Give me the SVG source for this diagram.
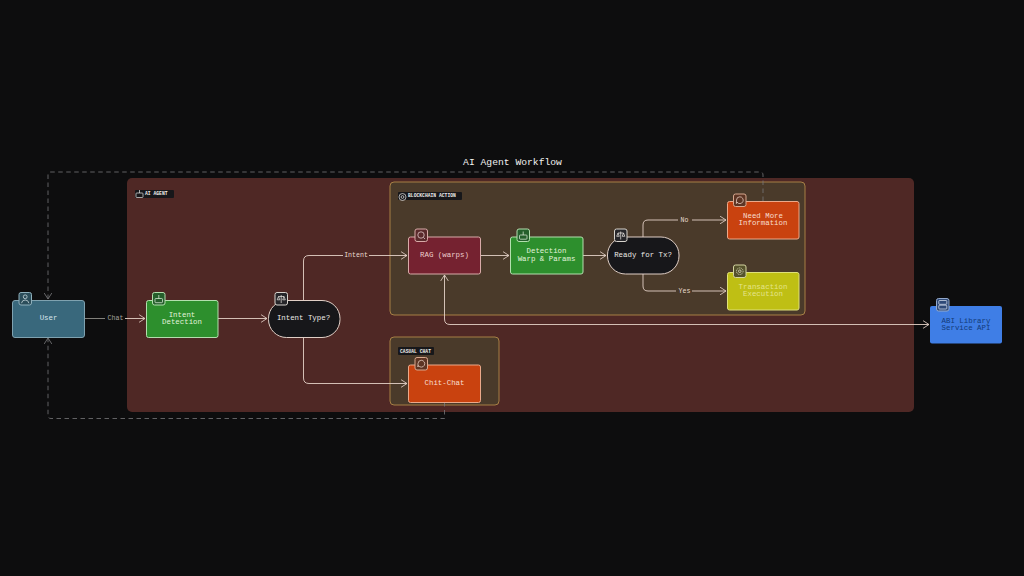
<svg xmlns="http://www.w3.org/2000/svg" width="1024" height="576" viewBox="0 0 1024 576">
<defs>
<style>
text{font-family:"Liberation Mono","DejaVu Sans Mono",monospace;font-size:7.400px;text-anchor:middle}
.n{stroke-width:1}
.c{fill:none;stroke:#e3d0c6;stroke-width:.9}
.d{fill:none;stroke:#77777a;stroke-width:.8;stroke-dasharray:4.500 3.500}
.sub{fill:#4a3a2a;stroke:#a67f45;stroke-width:1}
.lb{fill:#17171a}
.lt{font-size:4.700px;font-weight:700;fill:#f0eeea;text-anchor:start}
.e{font-size:6.600px;fill:#e8dcd0}
.ic{fill:none;stroke-width:.7}
.bd{stroke-width:1}
</style>
<marker id="a" viewBox="0 0 10 10" refX="9" refY="5" markerWidth="8.500" markerHeight="8.500" markerUnits="userSpaceOnUse" orient="auto-start-reverse"><path d="M2 0.500 L9 5 L2 9.500" fill="none" stroke="#e3d0c6" stroke-width="1"/></marker>
<marker id="g" viewBox="0 0 10 10" refX="9" refY="5" markerWidth="8.500" markerHeight="8.500" markerUnits="userSpaceOnUse" orient="auto"><path d="M2 0.500 L9 5 L2 9.500" fill="none" stroke="#77777a" stroke-width="1"/></marker>
</defs>
<rect width="1024" height="576" fill="#0d0d0e"/>
<text x="512.500" y="164.500" style="font-size:9.700px" fill="#f2f2f0">AI Agent Workflow</text>

<g id="ai-agent"><rect x="127" y="178" width="787" height="234" rx="5" fill="#4f2825"/>
<rect x="135" y="190" width="39" height="8" rx="1" class="lb"/>
<g class="ic" stroke="#e8e8e8"><rect x="136" y="193" width="7" height="4.500" rx=".8"/><path d="M139.500 190v3"/></g>
<text x="145" y="194.600" class="lt">AI AGENT</text></g>

<g id="blockchain-action"><rect x="390" y="182" width="415" height="133" rx="4" class="sub"/>
<rect x="398" y="192" width="64" height="8" rx="1" class="lb"/>
<circle cx="402.500" cy="197" r="3.500" class="ic" stroke="#e8e8e8"/><circle cx="402.500" cy="197" r="1.400" class="ic" stroke="#e8e8e8"/>
<text x="408" y="197" class="lt">BLOCKCHAIN ACTION</text></g>

<g id="casual-chat"><rect x="390" y="337" width="109" height="68" rx="4" class="sub"/>
<rect x="398" y="347" width="36" height="8" rx="1" class="lb"/>
<text x="400" y="352.500" class="lt">CASUAL CHAT</text></g>

<g id="connectors">
<path d="M85 318.500H105" fill="none" stroke="#8f8d88" stroke-width=".9"/>
<path class="c" d="M125 318.500H145" marker-end="url(#a)"/>
<text x="115.500" y="320.300" class="e" style="fill:#a3a19c">Chat</text>
<path class="c" d="M218 318.500H267" marker-end="url(#a)"/>
<path class="c" d="M303.500 300V261Q303.500 255.500 309 255.500H343M369 255.500H407" marker-end="url(#a)"/>
<text x="356" y="257" class="e">Intent</text>
<path class="c" d="M303.500 337V378Q303.500 383.500 309 383.500H407" marker-end="url(#a)"/>
<path class="c" d="M481 255.500H509" marker-end="url(#a)"/>
<path class="c" d="M583 255.500H606" marker-end="url(#a)"/>
<path class="c" d="M643 237V225Q643 220 648 220H678M692 220H726" marker-end="url(#a)"/>
<text x="684.500" y="221.500" class="e">No</text>
<path class="c" d="M643 274V286Q643 291 648 291H676M692 291H726" marker-end="url(#a)"/>
<text x="684.500" y="292.500" class="e">Yes</text>
<path class="c" d="M444.500 275V319Q444.500 324.500 450 324.500H929" marker-start="url(#a)" marker-end="url(#a)"/>
<path class="d" d="M763 201V175Q763 172 760 172H51Q48 172 48 175V299" marker-end="url(#g)"/>
<path class="d" d="M444.500 402V418.500H51Q48 418.500 48 415.500V338" marker-end="url(#g)"/>
</g>

<g id="user"><rect x="12.500" y="300.500" width="72" height="37" rx="2.500" fill="#39687c" stroke="#7fa2b0" class="n"/>
<text x="48.500" y="320" fill="#d8e6ec">User</text>
<rect x="19" y="292.500" width="12.500" height="12.500" rx="2" fill="#2b4d5a" stroke="#8fb0bc" class="bd"/>
<g class="ic" stroke="#dbe8ec"><circle cx="25.200" cy="296.800" r="1.900"/><path d="M21.500 303.200q.5-3.200 3.700-3.200t3.700 3.200"/></g></g>

<g id="intent-detection"><rect x="146.500" y="300.500" width="71.500" height="37" rx="2" fill="#2d8f2d" stroke="#b3dfae" class="n"/>
<text x="182" y="316.500" fill="#e2f3dc">Intent</text><text x="182" y="324" fill="#e2f3dc">Detection</text>
<rect x="152.500" y="292.500" width="12.500" height="12.500" rx="2" fill="#255f2c" stroke="#b3dfae" class="bd"/>
<g class="ic" stroke="#e8f5e4"><rect x="155" y="298.500" width="7.500" height="4.200" rx=".8"/><path d="M158.800 295v3.500"/></g></g>

<g id="intent-type"><rect x="268.500" y="300.500" width="71.500" height="37" rx="18" fill="#17171a" stroke="#e0cfc6" class="n"/>
<text x="303.500" y="320" fill="#eceae6">Intent Type?</text>
<rect x="275" y="292.500" width="12.500" height="12.500" rx="2" fill="#26262a" stroke="#d8d4ce" class="bd"/>
<g class="ic" stroke="#f0ece6"><path d="M281.200 295v8M278.500 296.500h5.500M278.500 296.500l-1.300 3.300h2.600zM284 296.500l-1.300 3.300h2.600z"/></g></g>

<g id="rag"><rect x="408.500" y="237" width="72" height="37" rx="2" fill="#752230" stroke="#d8aaa8" class="n"/>
<text x="444.500" y="257" fill="#eecfcc">RAG (warps)</text>
<rect x="415" y="229" width="12.500" height="12.500" rx="2" fill="#5a2a2c" stroke="#d8aaa8" class="bd"/>
<g class="ic" stroke="#f2dddc"><circle cx="421" cy="235" r="3.200"/><path d="M423.500 237.500l1.500 1.500"/></g></g>

<g id="detection"><rect x="510.500" y="237" width="72.500" height="37" rx="2" fill="#2d8f2d" stroke="#b3dfae" class="n"/>
<text x="546.500" y="253" fill="#e2f3dc">Detection</text><text x="546.500" y="260.500" fill="#e2f3dc">Warp &amp; Params</text>
<rect x="517" y="229" width="12.500" height="12.500" rx="2" fill="#255f2c" stroke="#b3dfae" class="bd"/>
<g class="ic" stroke="#e8f5e4"><rect x="519.500" y="235" width="7.500" height="4.200" rx=".8"/><path d="M523.200 231.500v3.500"/></g></g>

<g id="ready"><rect x="607.500" y="237" width="71.500" height="37" rx="18" fill="#17171a" stroke="#e0cfc6" class="n"/>
<text x="643" y="257" fill="#eceae6">Ready for Tx?</text>
<rect x="614.500" y="229" width="12.500" height="12.500" rx="2" fill="#26262a" stroke="#d8d4ce" class="bd"/>
<g class="ic" stroke="#f0ece6"><path d="M620.700 231.500v8M618 233h5.500M618 233l-1.300 3.300h2.600zM623.500 233l-1.300 3.300h2.600z"/></g></g>

<g id="need-more"><rect x="727.500" y="201.500" width="71.500" height="37.500" rx="2" fill="#c9420f" stroke="#eba98a" class="n"/>
<text x="763" y="217.500" fill="#f8dfcf">Need More</text><text x="763" y="225" fill="#f8dfcf">Information</text>
<rect x="733.500" y="194" width="12.500" height="12.500" rx="2" fill="#5d3524" stroke="#d8a88e" class="bd"/>
<path class="ic" stroke="#f3ddd0" d="M739.800 196.800a3.400 3.400 0 1 1-2.800 5.300l-.6 1.400.1-3.500a3.400 3.400 0 0 1 3.300-3.200z"/></g>

<g id="transaction"><rect x="727.500" y="272.500" width="71.500" height="37.500" rx="2" fill="#bfbf14" stroke="#dfe07a" class="n"/>
<text x="763" y="288.500" fill="#e4e48c">Transaction</text><text x="763" y="296" fill="#e4e48c">Execution</text>
<rect x="733.500" y="265" width="12.500" height="12.500" rx="2" fill="#55522c" stroke="#d5d4a0" class="bd"/>
<g class="ic" stroke="#efeed0"><circle cx="739.800" cy="271.200" r="1.300"/><circle cx="739.800" cy="271.200" r="3.300" stroke-dasharray="1.300 .7"/></g></g>

<g id="abi"><rect x="930" y="306" width="72" height="37.500" rx="2" fill="#3f7ee6"/>
<text x="966" y="322.500" fill="#123a78">ABI Library</text><text x="966" y="330" fill="#123a78">Service API</text>
<rect x="936.500" y="298.500" width="12.500" height="12.500" rx="2" fill="#2f4a78" stroke="#93a9cc" class="bd"/>
<g class="ic" stroke="#dfe7f4"><rect x="938.800" y="300.500" width="8" height="3.800" rx=".8"/><rect x="938.800" y="305.200" width="8" height="3.800" rx=".8"/></g></g>

<g id="chit-chat"><rect x="408.500" y="365" width="72" height="37.500" rx="2" fill="#c9420f" stroke="#eba98a" class="n"/>
<text x="444.500" y="385" fill="#f8dfcf">Chit-Chat</text>
<rect x="415" y="357.500" width="12.500" height="12.500" rx="2" fill="#5d3524" stroke="#d8a88e" class="bd"/>
<path class="ic" stroke="#f3ddd0" d="M421.300 360.300a3.400 3.400 0 1 1-2.800 5.300l-.6 1.400.1-3.500a3.400 3.400 0 0 1 3.300-3.200z"/></g>
</svg>
